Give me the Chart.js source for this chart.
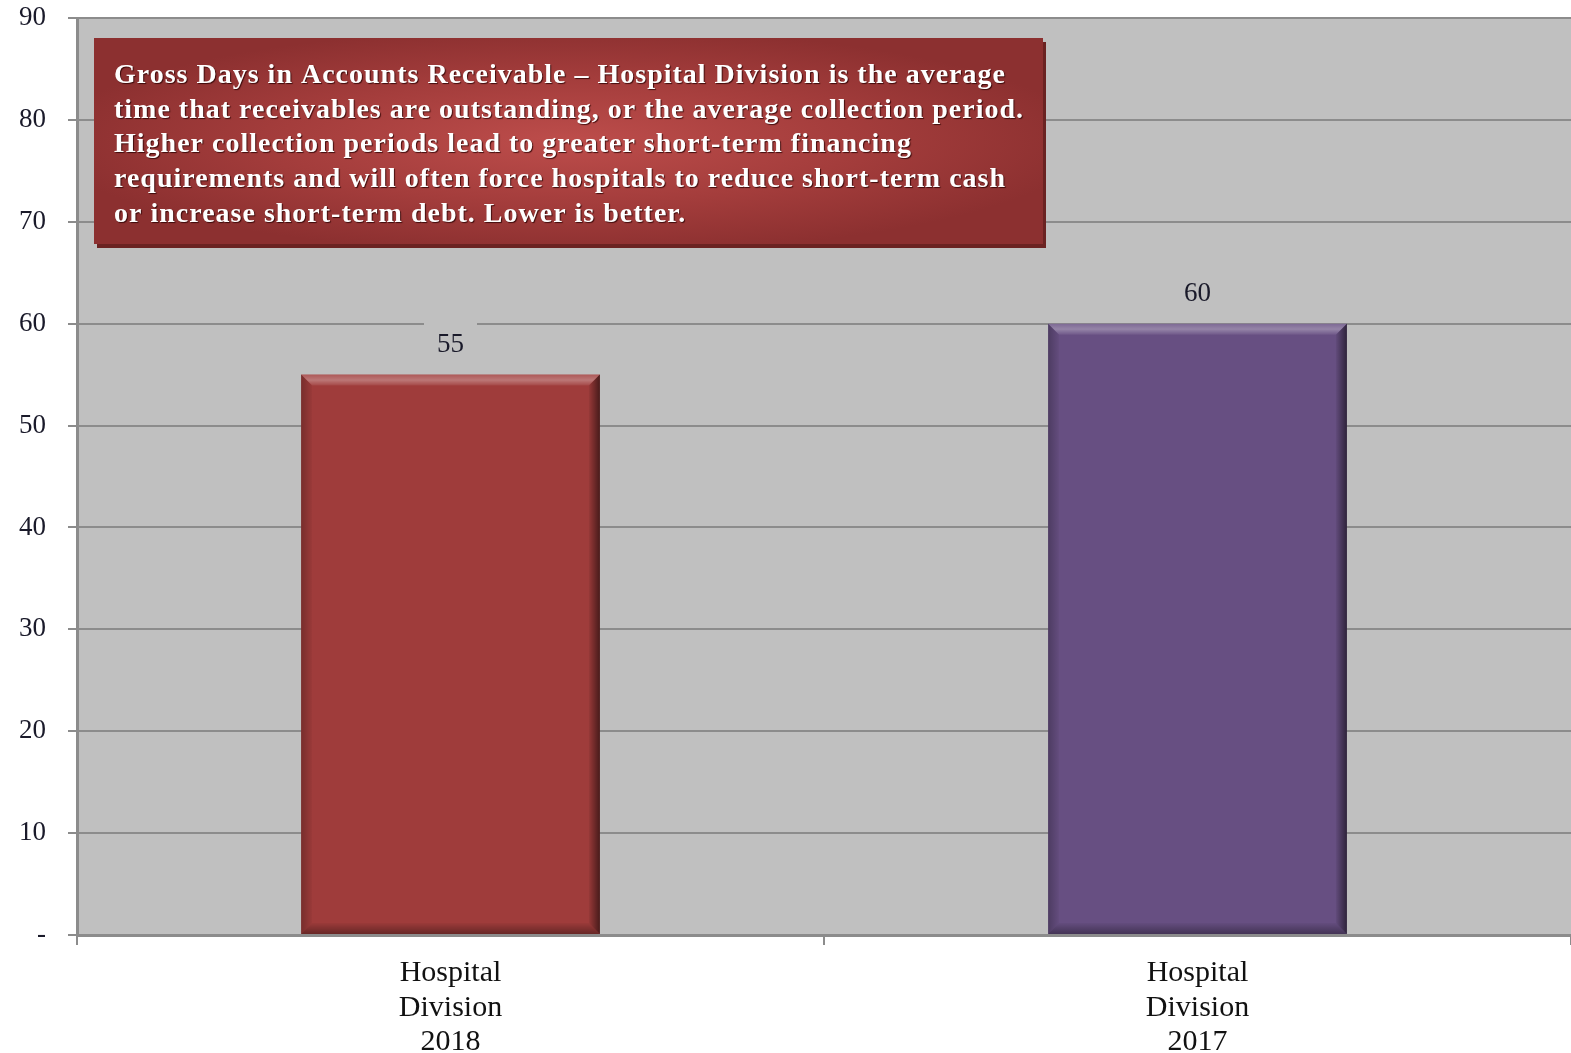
<!DOCTYPE html>
<html>
<head>
<meta charset="utf-8">
<script src="https://cdn.jsdelivr.net/npm/chart.js@4.4.1/dist/chart.umd.min.js"></script>
<style>
  html, body { margin: 0; padding: 0; background: #fff; }
  #wrap { width: 1571px; height: 1053px; }
</style>
</head>
<body>
<div id="wrap"><canvas id="grafico" width="1571" height="1053"></canvas></div>
<script>
// dados do gráfico
const categorias = [['Hospital', 'Division', '2018'], ['Hospital', 'Division', '2017']];
const diasAR = [55, 60];
const coresBarras = ['#9f3c3b', '#674f82'];
const ticksY = [0, 10, 20, 30, 40, 50, 60, 70, 80, 90];
const notaLinhas = [
    'Gross Days in Accounts Receivable \u2013 Hospital Division is the average',
    'time that receivables are outstanding, or the average collection period.',
    'Higher collection periods lead to greater short-term financing',
    'requirements and will often force hospitals to reduce short-term cash',
    'or increase short-term debt. Lower is better.'
];

const FONTE = '"Liberation Serif", "Times New Roman", serif';

// efeito de relevo nas barras
const relevoPlugin = {
    id: 'relevo',
    afterDatasetsDraw(chart) {
        const ctx = chart.ctx;
        chart.getDatasetMeta(0).data.forEach(bar => {
            const p = bar.getProps(['x', 'y', 'base', 'width'], true);
            const l = p.x - p.width / 2, r = p.x + p.width / 2, t = p.y, b = p.base;
            const e = 11;
            ctx.save();
            // topo claro
            ctx.beginPath();
            ctx.moveTo(l, t); ctx.lineTo(r, t); ctx.lineTo(r - e, t + e); ctx.lineTo(l + e, t + e);
            ctx.closePath();
            let g = ctx.createLinearGradient(0, t, 0, t + e);
            g.addColorStop(0, 'rgba(255,255,255,0.15)');
            g.addColorStop(0.5, 'rgba(255,255,255,0.3)');
            g.addColorStop(1, 'rgba(255,255,255,0.06)');
            ctx.fillStyle = g; ctx.fill();
            // lado direito escuro
            ctx.beginPath();
            ctx.moveTo(r, t); ctx.lineTo(r, b); ctx.lineTo(r - e, b - e); ctx.lineTo(r - e, t + e);
            ctx.closePath();
            g = ctx.createLinearGradient(r - e, 0, r, 0);
            g.addColorStop(0, 'rgba(0,0,0,0.05)');
            g.addColorStop(1, 'rgba(0,0,0,0.55)');
            ctx.fillStyle = g; ctx.fill();
            // lado esquerdo
            ctx.beginPath();
            ctx.moveTo(l, t); ctx.lineTo(l + e, t + e); ctx.lineTo(l + e, b - e); ctx.lineTo(l, b);
            ctx.closePath();
            g = ctx.createLinearGradient(l, 0, l + e, 0);
            g.addColorStop(0, 'rgba(0,0,0,0.25)');
            g.addColorStop(1, 'rgba(0,0,0,0.03)');
            ctx.fillStyle = g; ctx.fill();
            // base
            ctx.beginPath();
            ctx.moveTo(l, b); ctx.lineTo(l + e, b - e); ctx.lineTo(r - e, b - e); ctx.lineTo(r, b);
            ctx.closePath();
            g = ctx.createLinearGradient(0, b - e, 0, b);
            g.addColorStop(0, 'rgba(0,0,0,0.03)');
            g.addColorStop(1, 'rgba(0,0,0,0.35)');
            ctx.fillStyle = g; ctx.fill();
            ctx.restore();
        });
    }
};

// rótulos de valor acima das barras
const rotulosPlugin = {
    id: 'rotulos',
    afterDatasetsDraw(chart) {
        const ctx = chart.ctx;
        const ds = chart.data.datasets[0];
        ctx.save();
        ctx.font = '27px ' + FONTE;
        ctx.textAlign = 'center';
        ctx.textBaseline = 'middle';
        chart.getDatasetMeta(0).data.forEach((bar, i) => {
            const txt = String(ds.data[i]);
            const cy = bar.y - 30;
            const w = ctx.measureText(txt).width + 26;
            ctx.fillStyle = '#c0c0c0';
            ctx.fillRect(bar.x - w / 2, cy - 22, w, 44);
            ctx.fillStyle = '#1a1a2a';
            ctx.fillText(txt, bar.x, cy);
        });
        ctx.restore();
    }
};

// caixa de texto explicativa
const notaPlugin = {
    id: 'nota',
    afterDraw(chart) {
        const ctx = chart.ctx;
        const a = chart.chartArea;
        const x = a.left + 17, y = a.top + 20, w = 949, h = 206;
        ctx.save();
        // sombra
        ctx.fillStyle = '#6b2322';
        ctx.fillRect(x + 3, y + 4, w, h);
        // fundo com gradiente radial
        ctx.beginPath();
        ctx.rect(x, y, w, h);
        ctx.clip();
        ctx.translate(x + w * 0.5, y + h * 0.5);
        ctx.scale(1, h / w);
        const g = ctx.createRadialGradient(0, 0, 0, 0, 0, w * 0.55);
        g.addColorStop(0, '#bd4d4b');
        g.addColorStop(0.55, '#a43d3c');
        g.addColorStop(1, '#8c3030');
        ctx.fillStyle = g;
        ctx.fillRect(-w / 2, -w / 2, w, w);
        ctx.restore();

        ctx.save();
        ctx.font = 'bold 28px ' + FONTE;
        ctx.letterSpacing = '1px';
        ctx.textAlign = 'left';
        ctx.textBaseline = 'middle';
        ctx.shadowColor = 'rgba(40,0,0,0.8)';
        ctx.shadowOffsetX = 1;
        ctx.shadowOffsetY = 1;
        ctx.shadowBlur = 1;
        ctx.fillStyle = '#ffffff';
        notaLinhas.forEach((linha, i) => {
            ctx.fillText(linha, x + 20, y + 38 + i * 34.6);
        });
        ctx.restore();
    }
};

// fundo cinza da área do gráfico
const fundoPlugin = {
    id: 'fundo',
    beforeDraw(chart) {
        const a = chart.chartArea;
        const ctx = chart.ctx;
        ctx.save();
        ctx.fillStyle = '#c0c0c0';
        ctx.fillRect(a.left, a.top, a.right - a.left, a.bottom - a.top);
        ctx.restore();
    }
};

const ctx = document.getElementById('grafico').getContext('2d');
new Chart(ctx, {
    type: 'bar',
    data: {
        labels: categorias,
        datasets: [{
            label: 'Gross Days in Accounts Receivable',
            data: diasAR,
            backgroundColor: coresBarras,
            borderWidth: 0,
            categoryPercentage: 1,
            barPercentage: 0.4
        }]
    },
    options: {
        responsive: false,
        animation: false,
        devicePixelRatio: 1,
        layout: { padding: { top: 0, left: 0, right: 0, bottom: 0 } },
        plugins: {
            legend: { display: false },
            tooltip: { enabled: false }
        },
        scales: {
            y: {
                min: 0,
                max: 90,
                afterFit: s => { s.width = 77; s.paddingTop = 18; },
                afterBuildTicks: s => { s.ticks = ticksY.map(v => ({ value: v })); },
                ticks: {
                    callback: v => v === 0 ? '-' : v,
                    font: { family: FONTE, size: 27 },
                    color: '#1a1a2a',
                    padding: 22
                },
                grid: { color: '#8c8c8c', lineWidth: 2, tickLength: 9, tickColor: '#8c8c8c' },
                border: { color: '#8c8c8c', width: 3 }
            },
            x: {
                afterFit: s => { s.height = 118; },
                ticks: {
                    font: { family: FONTE, size: 30, lineHeight: 1.15 },
                    color: '#111111',
                    padding: 11,
                    maxRotation: 0
                },
                grid: { drawOnChartArea: false, drawTicks: true, tickLength: 10, color: '#8c8c8c', lineWidth: 2 },
                border: { color: '#8c8c8c', width: 3 }
            }
        }
    },
    plugins: [fundoPlugin, relevoPlugin, rotulosPlugin, notaPlugin]
});
</script>
</body>
</html>
